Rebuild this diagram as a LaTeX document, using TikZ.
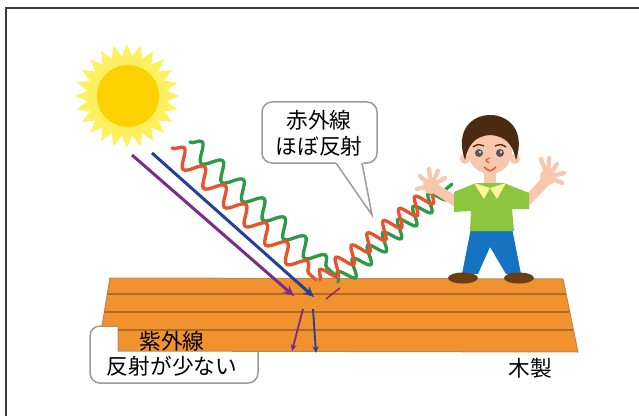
\documentclass[tikz,border=0pt]{standalone}
\usepackage{fontspec}
\newfontfamily\jpfont{Noto Sans CJK JP}
\usepackage{xcolor}
\usepackage{tikz}
\usetikzlibrary{arrows.meta, decorations.pathmorphing}
\definecolor{raycolor}{RGB}{255, 240, 96}
\definecolor{suncolor}{RGB}{255, 209, 0}
\definecolor{woodcolor}{RGB}{240, 146, 46}
\definecolor{graincolor}{RGB}{176, 106, 42}
\definecolor{irred}{RGB}{232, 82, 44}
\definecolor{irgreen}{RGB}{46, 154, 72}
\definecolor{uvpurple}{RGB}{122, 43, 140}
\definecolor{uvblue}{RGB}{33, 64, 154}
\definecolor{bubbleline}{RGB}{155, 155, 155}
\definecolor{framecolor}{RGB}{60, 60, 60}
\definecolor{shirtcolor}{RGB}{140, 198, 63}
\definecolor{collarcolor}{RGB}{255, 245, 157}
\definecolor{pantscolor}{RGB}{22, 115, 193}
\definecolor{shoecolor}{RGB}{107, 62, 20}
\definecolor{haircolor}{RGB}{75, 42, 18}
\definecolor{skincolor}{RGB}{248, 200, 174}

\begin{document}
\begin{tikzpicture}[x=0.3mm, y=-0.3mm,
    jtext/.style={font=\jpfont\fontsize{18.5}{22}\selectfont, inner sep=0pt},
    bubble/.style={draw=bubbleline, line width=0.45mm, fill=white},
    irwave/.style={line width=1mm, line cap=round, decorate,
        decoration={snake, segment length=#1, amplitude=2.5mm}},
    uvray/.style={line width=0.9mm, -{Stealth[length=3.2mm, width=2.8mm]}},
    uvpass/.style={line width=0.55mm, -{Stealth[length=2mm, width=1.8mm]}},
    finger/.style={skincolor, line width=1.3mm, line cap=round}]
    \useasboundingbox (0,0) rectangle (639,416);

    % Frame
    \draw[framecolor, line width=0.6mm] (5.5,430) -- (5.5,8) -- (650,8);

    % Sun
    \fill[raycolor] plot[domain=0:47, samples=48]
        ({127+(52-12*mod(\x,2))*cos(7.5*\x)}, {96+(52-12*mod(\x,2))*sin(7.5*\x)}) -- cycle;
    \fill[suncolor] (128,96) circle [radius=31];

    % UV note (behind the board)
    \draw[bubble, rounded corners=3mm] (90,326) rectangle (258,383);

    % Wooden board
    \filldraw[fill=woodcolor, draw=graincolor!80, line width=0.3mm]
        (110,278) -- (563,279) -- (578,352) -- (118,351) -- (118,326) -- (102,326) -- cycle;
    \draw[graincolor, line width=0.5mm] (107,294) -- (566,294);
    \draw[graincolor, line width=0.5mm] (104,312) -- (570,312);
    \draw[graincolor, line width=0.5mm] (118,330) -- (573,330);

    \node[jtext] (uvname) at (172,341) {紫外線};
    \node[jtext] (uvnote) at (172,366) {反射が少ない};

    % IR note
    \coordinate (tip) at (372,215);
    \draw[bubble, rounded corners=3mm] (262,102) rectangle (377,163);
    \fill[white] (335,161.5) -- (tip) -- (363,161.5) -- cycle;
    \draw[bubbleline, line width=0.45mm] (336,163) -- (tip) -- (362,163);
    \node[jtext] (irname) at (319,120) {赤外線};
    \node[jtext] (irnote) at (319,146) {ほぼ反射};

    % Infrared waves
    \draw[irgreen, irwave=8.4mm] (190,142) -- (336,276);
    \draw[irred, irwave=8.4mm] (172,148) -- (316,280);
    \draw[irgreen, irwave=6mm] (338,282) -- (452,184);
    \draw[irred, irwave=6mm] (320,280) -- (437,190);

    % Ultraviolet rays
    \draw[uvpurple, uvray] (132,155) -- (294,296);
    \draw[uvblue, uvray] (152,153) -- (314,297);
    \draw[uvpurple, uvpass] (303,309) -- (292,351);
    \draw[uvblue, uvpass] (313,309) -- (316,353);
    \draw[uvpurple!70!red, line width=0.45mm] (326,299) -- (340,288);

    % Boy: legs and shoes
    \fill[pantscolor] (471,228) -- (512,228) -- (521,274) -- (506,274) -- (490,247) -- (478,274) -- (462,274) -- cycle;
    \fill[shoecolor] (463,278) ellipse [x radius=15, y radius=5.5];
    \fill[shoecolor] (519,278) ellipse [x radius=15, y radius=5.5];

    % Boy: arms and hands
    \draw[skincolor, line width=3mm, line cap=round] (458,203) -- (436,189);
    \fill[skincolor] (431,186) circle [radius=8];
    \foreach \tx/\ty in {417/189, 420/176, 429/169, 438/171, 445/178}
        \draw[finger] (431,186) -- (\tx,\ty);
    \draw[skincolor, line width=3mm, line cap=round] (525,203) -- (545,182);
    \fill[skincolor] (548,177) circle [radius=8];
    \foreach \tx/\ty in {541/159, 549/158, 557/164, 564/173, 562/183}
        \draw[finger] (548,177) -- (\tx,\ty);

    % Boy: shirt and collar
    \fill[skincolor] (484,168) rectangle (496,186);
    \fill[shirtcolor] (454,192) -- (476,183) -- (504,183) -- (529,193) -- (529,209) -- (512,209)
        -- (514,231) -- (470,231) -- (471,211) -- (454,212) -- cycle;
    \fill[collarcolor] (474,183) -- (490,188) -- (484,199) -- cycle;
    \fill[collarcolor] (490,188) -- (506,183) -- (497,199) -- cycle;

    % Boy: head
    \fill[skincolor] (465,159) circle [radius=5];
    \fill[skincolor] (515,159) circle [radius=5];
    \fill[skincolor] (490,152) ellipse [x radius=22, y radius=22];
    \fill[haircolor] (465,160) .. controls (444,100) and (536,100) .. (516,160)
        .. controls (513,146) and (507,136) .. (490,135)
        .. controls (474,136) and (468,146) .. cycle;
    \draw[haircolor, line width=0.4mm] (473,147) .. controls (478,144) .. (484,146);
    \draw[haircolor, line width=0.4mm] (495,146) .. controls (501,144) .. (506,147);
    \fill[gray!70!black] (479,153) circle [radius=4];
    \fill[gray!70!black] (500,153) circle [radius=4];
    \fill[white] (480,152) circle [radius=1.2];
    \fill[white] (501,152) circle [radius=1.2];
    \draw[irred, line width=0.35mm] (490,158) .. controls (485,160) .. (489,163);
    \draw[irred, line width=0.45mm] (484,167) .. controls (490,172) .. (496,167);

    % Material label
    \node[jtext] (wood) at (530,368) {木製};
\end{tikzpicture}
\end{document}
